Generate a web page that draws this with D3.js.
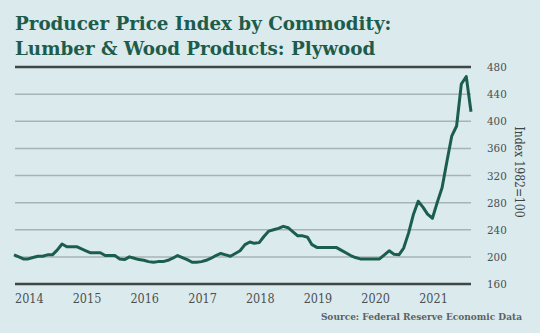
<!DOCTYPE html>
<html>
<head>
<meta charset="utf-8">
<script src="https://cdn.jsdelivr.net/npm/d3@7"></script>
<style>
  html, body { margin: 0; padding: 0; background: #dbeaed; }
  svg { display: block; }
</style>
</head>
<body>
<div id="chart"></div>
<script>
// monthly index values, Jan 2014 onward
const startYear = 2014;
const values = [
  203, 200, 197, 197, 199, 201, 201, 203, 203, 210, 219, 215,
  215, 215, 212, 209, 206, 206, 206, 202, 202, 202, 197, 196,
  200, 198, 196, 195, 193, 192, 193, 193, 195, 198, 202, 199,
  196, 192, 192, 193, 195, 198, 202, 205, 203, 201, 205, 209,
  218, 222, 220, 221, 230, 238, 240, 242, 245, 243, 237, 231,
  231, 229, 218, 214, 214, 214, 214, 214, 210, 206, 202, 199,
  197, 197, 197, 197, 197, 203, 209, 204, 203, 213, 235, 262,
  282, 273, 263, 257, 280, 302, 340, 378, 393, 455, 466, 414
];
const yearLabels = ["2014", "2015", "2016", "2017", "2018", "2019", "2020", "2021"];
const yTicks = [160, 200, 240, 280, 320, 360, 400, 440, 480];

const titleLines = ["Producer Price Index by Commodity:", "Lumber & Wood Products: Plywood"];

const width = 540, height = 333;
const margin = {top: 67, right: 69, bottom: 49, left: 14};

const data = values.map((v, i) => ({date: new Date(startYear, i, 1), value: v}));

const svg = d3.select("#chart").append("svg")
    .attr("width", width)
    .attr("height", height);

svg.append("rect").attr("width", width).attr("height", height).attr("fill", "#dbeaed");

const x = d3.scaleTime()
    .domain(d3.extent(data, d => d.date))
    .range([margin.left, width - margin.right]);

const y = d3.scaleLinear()
    .domain([160, 480])
    .range([height - margin.bottom, margin.top]);

// title
svg.append("g").selectAll("text")
  .data(titleLines)
  .join("text")
    .attr("x", 15)
    .attr("y", (d, i) => 30 + i * 24.5)
    .attr("font-family", "DejaVu Serif")
    .attr("font-weight", "bold")
    .attr("font-size", 18.3)
    .attr("fill", "#1d5c4b")
    .text(d => d);

// grid lines
svg.append("g").selectAll("line")
  .data(yTicks)
  .join("line")
    .attr("x1", 15)
    .attr("x2", width - margin.right)
    .attr("y1", d => y(d))
    .attr("y2", d => y(d))
    .attr("stroke", d => (d === 160 || d === 480) ? "#3c4747" : "#a7b4b6")
    .attr("stroke-width", d => (d === 160 || d === 480) ? 2.6 : 1.5);

// right axis labels
svg.append("g").selectAll("text")
  .data(yTicks)
  .join("text")
    .attr("x", 487)
    .attr("y", d => y(d) + 4)
    .attr("font-family", "DejaVu Serif")
    .attr("font-stretch", "condensed")
    .attr("font-size", 11.5)
    .attr("fill", "#4a4f50")
    .text(d => d);

svg.append("text")
    .attr("transform", "translate(515,172) rotate(90)")
    .attr("text-anchor", "middle")
    .attr("font-family", "DejaVu Serif")
    .attr("font-stretch", "condensed")
    .attr("font-size", 12)
    .attr("fill", "#3c4545")
    .text("Index 1982=100");

// year labels
svg.append("g").selectAll("text")
  .data(yearLabels)
  .join("text")
    .attr("x", d => x(new Date(+d, 0, 1)) + 1)
    .attr("y", 303)
    .attr("font-family", "DejaVu Serif")
    .attr("font-stretch", "condensed")
    .attr("font-size", 12.5)
    .attr("fill", "#4a4f50")
    .text(d => d);

// the series
svg.append("path")
    .datum(data)
    .attr("fill", "none")
    .attr("stroke", "#1c5e4d")
    .attr("stroke-width", 3)
    .attr("stroke-linejoin", "round")
    .attr("d", d3.line()
      .x(d => x(d.date))
      .y(d => y(d.value)));

svg.append("text")
    .attr("x", 522)
    .attr("y", 320)
    .attr("text-anchor", "end")
    .attr("font-family", "DejaVu Serif")
    .attr("font-weight", "bold")
    .attr("font-size", 9)
    .attr("fill", "#5c6263")
    .text("Source: Federal Reserve Economic Data");
</script>
</body>
</html>
